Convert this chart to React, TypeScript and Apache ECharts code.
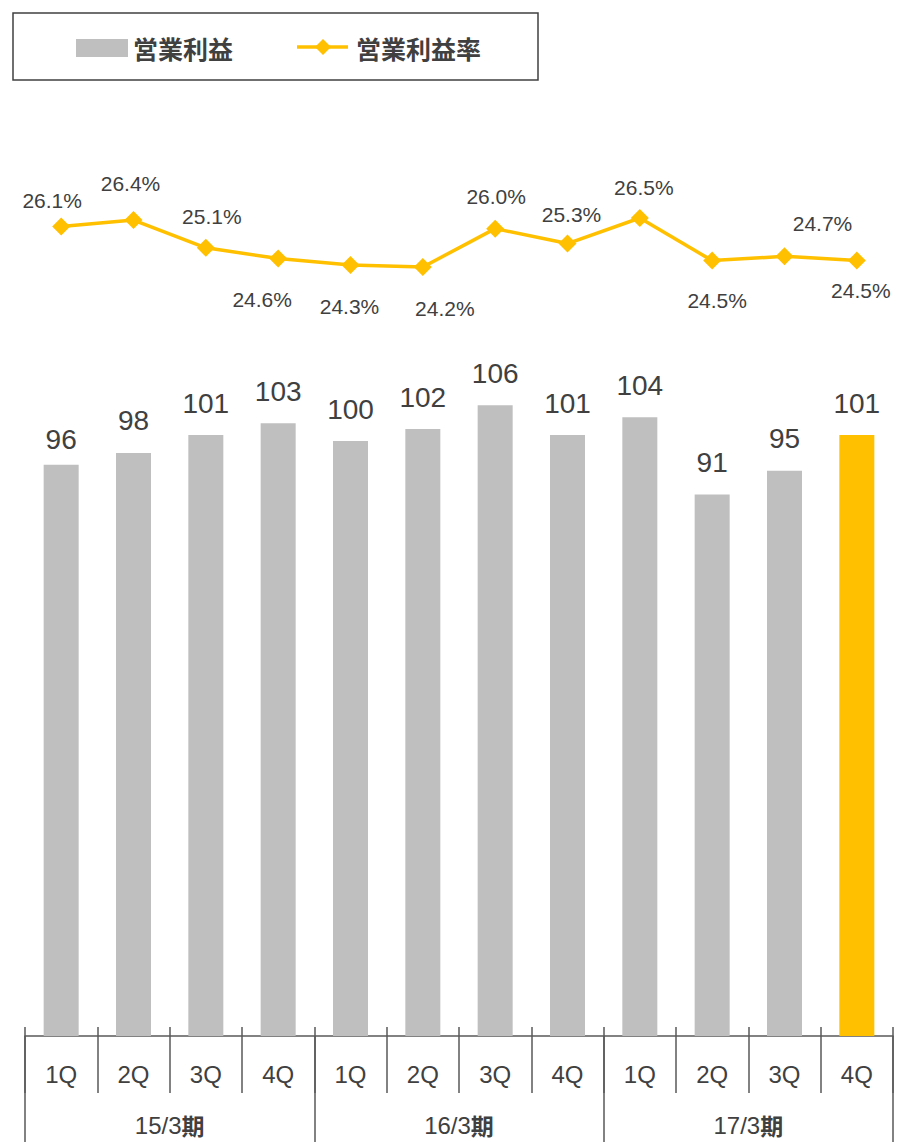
import React, { useEffect, useRef } from "react";
import * as echarts from "echarts";

const categories = ["1Q", "2Q", "3Q", "4Q", "1Q", "2Q", "3Q", "4Q", "1Q", "2Q", "3Q", "4Q"];
const periods = ["15/3期", "16/3期", "17/3期"];
const operatingProfit = [96, 98, 101, 103, 100, 102, 106, 101, 104, 91, 95, 101];
const operatingMargin = [26.1, 26.4, 25.1, 24.6, 24.3, 24.2, 26.0, 25.3, 26.5, 24.5, 24.7, 24.5];
const highlightIndex = 11;

// label placement (styles, not data)
const marginLabelOffsets: [number, number][] = [
  [-9, -26], [-3, -37], [6, -31], [-16, 41], [-1, 42], [22, 41],
  [1, -32], [4, -29], [4, -30], [5, 40], [38, -33], [4, 30],
];
const profitLabelDy = [7, 0, 0, 0, 0, 0, 0, 0, 0, 0, 0, 0];

const GRAY = "#BFBFBF";
const YELLOW = "#FFC000";
const TEXT = "#404040";
const AXIS = "#595959";
const NUM_FONT = "'Liberation Sans', Arial, sans-serif";
const CJK_FONT = "'Noto Sans CJK JP', 'Noto Sans', sans-serif";

export default function App() {
  const ref = useRef<HTMLDivElement>(null);
  useEffect(() => {
    if (!ref.current) return;
    const chart = echarts.init(ref.current, null, { renderer: "svg" });
    const option: any = {
      animation: false,
      backgroundColor: "#ffffff",
      grid: [
        { left: 25, right: 7, top: 381.5, bottom: 106 },
        { left: 25, right: 7, top: 186, bottom: 849.4 },
      ],
      xAxis: [
        {
          gridIndex: 0,
          type: "category",
          data: categories,
          position: "bottom",
          axisLine: { show: true, lineStyle: { color: AXIS, width: 1.5 } },
          axisTick: { show: true, interval: 0, length: 57, lineStyle: { color: AXIS, width: 1.5 } },
          axisLabel: { interval: 0, margin: 26, fontSize: 24, color: TEXT, fontFamily: NUM_FONT },
        },
        {
          gridIndex: 0,
          type: "category",
          data: categories,
          position: "bottom",
          axisLine: { show: false },
          axisTick: { show: true, inside: true, interval: 0, length: 9, lineStyle: { color: AXIS, width: 1.5 } },
          axisLabel: { show: false },
        },
        {
          gridIndex: 0,
          type: "category",
          data: periods,
          position: "bottom",
          axisLine: { show: false },
          axisTick: { show: true, interval: 0, length: 120, lineStyle: { color: AXIS, width: 1.5 } },
          axisLabel: {
            interval: 0,
            margin: 77,
            formatter: (v: string) => `{n|${v.replace("期", "")}}{b|期}`,
            rich: {
              n: { fontSize: 24, color: TEXT, fontFamily: NUM_FONT },
              b: { fontSize: 23, color: TEXT, fontFamily: CJK_FONT, fontWeight: "bold" },
            },
          },
        },
        { gridIndex: 1, type: "category", data: categories, show: false },
      ],
      yAxis: [
        { gridIndex: 0, type: "value", min: 0, max: 110, show: false },
        { gridIndex: 1, type: "value", min: 23, max: 28, show: false },
      ],
      series: [
        {
          type: "bar",
          xAxisIndex: 0,
          yAxisIndex: 0,
          barWidth: 35,
          data: operatingProfit.map((v, i) => ({
            value: v,
            label: { offset: [0, profitLabelDy[i]] },
          })),
          itemStyle: {
            color: (p: any) => (p.dataIndex === highlightIndex ? YELLOW : GRAY),
          },
          label: {
            show: true,
            position: "top",
            distance: 18,
            fontSize: 28,
            color: TEXT,
            fontFamily: NUM_FONT,
          },
        },
        {
          type: "line",
          xAxisIndex: 3,
          yAxisIndex: 1,
          symbol: "diamond",
          symbolSize: 18,
          color: YELLOW,
          lineStyle: { color: YELLOW, width: 3.5 },
          itemStyle: { color: YELLOW },
          data: operatingMargin.map((v, i) => ({
            value: v,
            label: { offset: marginLabelOffsets[i] },
          })),
          label: {
            show: true,
            position: "inside",
            fontSize: 21,
            color: TEXT,
            fontFamily: NUM_FONT,
            formatter: (p: any) => `${Number(p.value).toFixed(1)}%`,
          },
        },
      ],
      graphic: [
        {
          type: "rect",
          shape: { x: 13, y: 13, width: 525, height: 67 },
          style: { fill: "#ffffff", stroke: TEXT, lineWidth: 1.5 },
        },
        {
          type: "rect",
          shape: { x: 76, y: 39, width: 52, height: 18 },
          style: { fill: GRAY },
        },
        {
          type: "text",
          x: 133,
          y: 48,
          style: {
            text: "営業利益",
            fontSize: 25,
            fontWeight: "bold",
            fontFamily: CJK_FONT,
            fill: TEXT,
            verticalAlign: "middle",
            align: "left",
          },
        },
        {
          type: "line",
          shape: { x1: 297, y1: 47, x2: 348, y2: 47 },
          style: { stroke: YELLOW, lineWidth: 3.5 },
        },
        {
          type: "polygon",
          shape: { points: [[323, 39], [331, 47], [323, 55], [315, 47]] },
          style: { fill: YELLOW },
        },
        {
          type: "text",
          x: 356,
          y: 48,
          style: {
            text: "営業利益率",
            fontSize: 25,
            fontWeight: "bold",
            fontFamily: CJK_FONT,
            fill: TEXT,
            verticalAlign: "middle",
            align: "left",
          },
        },
      ],
    };
    chart.setOption(option);
    return () => chart.dispose();
  }, []);
  return (
    <div
      ref={ref}
      style={{ position: "absolute", left: 0, top: 0, width: 900, height: 1142 }}
    />
  );
}
